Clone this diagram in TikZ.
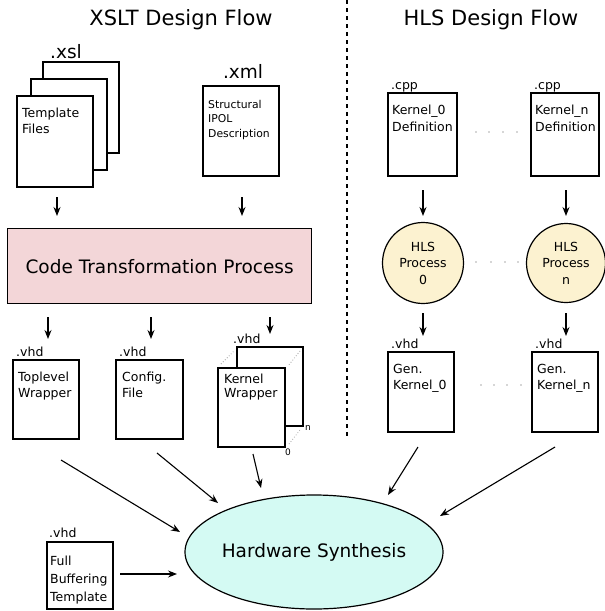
\documentclass[tikz,border=0pt]{standalone}
\usepackage{fontspec}
\setmainfont{DejaVu Sans}
\usetikzlibrary{arrows.meta,shapes.geometric}

\definecolor{ctpink}{RGB}{243,214,216}
\definecolor{hlsyellow}{RGB}{252,242,208}
\definecolor{synthcyan}{RGB}{212,250,243}

\tikzset{
  doc/.style={draw, line width=1.2pt, fill=white, anchor=north west, inner sep=0pt, outer sep=0pt},
  txt/.style={inner sep=0pt, anchor=base west, font=\fontsize{12.5}{15}\selectfont},
  smalltxt/.style={inner sep=0pt, anchor=base west, font=\fontsize{10.8}{13}\selectfont},
  ext/.style={inner sep=0pt, anchor=base west, font=\fontsize{12.5}{15}\selectfont},
  bigext/.style={inner sep=0pt, anchor=base, font=\fontsize{18.5}{22}\selectfont},
  flowtitle/.style={inner sep=0pt, anchor=base, font=\fontsize{21}{25}\selectfont},
  idx/.style={inner sep=0pt, font=\fontsize{9}{11}\selectfont},
  arr/.style={-{Stealth[length=9pt,width=7pt,inset=3pt]}, line width=1.1pt},
  hlsarr/.style={-{Stealth[length=9pt,width=7pt,inset=3pt]}, line width=1.8pt},
  ghost/.style={draw=gray!70, dotted, line width=0.8pt},
  gap/.style={fill=black!70, circle, inner sep=0pt, minimum size=1.4pt},
}

\begin{document}
\begin{tikzpicture}[x=1pt,y=-1pt]
\useasboundingbox (0,0) rectangle (605,611);

% separator between the two flows
\draw[line width=1.3pt, dash pattern=on 4pt off 4pt] (347,0) -- (347,436);

% titles
\node[flowtitle] (xsltTitle) at (181,25) {XSLT Design Flow};
\node[flowtitle] (hlsTitle) at (491,25) {HLS Design Flow};

% ---------------- XSLT flow ----------------
% stacked template files
\node[doc, minimum width=76pt, minimum height=91pt] (tplA) at (43,62) {};
\node[doc, minimum width=76pt, minimum height=91pt] (tplB) at (31,79) {};
\node[doc, minimum width=76pt, minimum height=91pt] (tplC) at (17,96) {};
\node[bigext] (xslExt) at (66,58) {.xsl};
\node[txt] (tplT1) at (22,117) {Template};
\node[txt] (tplT2) at (22,133) {Files};

% structural description
\node[doc, minimum width=76pt, minimum height=90pt] (xml) at (203,86) {};
\node[bigext] (xmlExt) at (243,78) {.xml};
\node[smalltxt] (xmlT1) at (208,108) {Structural};
\node[smalltxt] (xmlT2) at (208,122) {IPOL};
\node[smalltxt] (xmlT3) at (208,137) {Description};

% transformation step
\node[draw, line width=1.2pt, fill=ctpink, anchor=north west, minimum width=304pt, minimum height=75pt, inner sep=0pt]
  (ctp) at (7,228) {};
\node[inner sep=0pt, font=\fontsize{18.5}{22}\selectfont] (ctpT) at (ctp.center) {Code Transformation Process};

\coordinate (i1s) at (57,197); \coordinate (i1e) at (57,216);
\coordinate (i2s) at (242,197); \coordinate (i2e) at (242,216);
\draw[arr] (i1s) -- (i1e);
\draw[arr] (i2s) -- (i2e);

% generated VHDL files
\node[doc, minimum width=66pt, minimum height=79pt] (top) at (13,360) {};
\node[ext] (topExt) at (16,356) {.vhd};
\node[txt] (topT1) at (18,381) {Toplevel};
\node[txt] (topT2) at (18,397) {Wrapper};

\node[doc, minimum width=67pt, minimum height=79pt] (cfg) at (116,360) {};
\node[ext] (cfgExt) at (119,356) {.vhd};
\node[txt] (cfgT1) at (122,381) {Config.};
\node[txt] (cfgT2) at (122,397) {File};

\node[doc, minimum width=66pt, minimum height=79pt] (kwN) at (237,347) {};
\draw[ghost] (kwN.north east) ++(-3,4) -- ++(-12,15);
\node[doc, minimum width=67pt, minimum height=79pt] (kw0) at (218,368) {};
\draw[ghost] ([xshift=3pt,yshift=4pt]kw0.north west) -- ([xshift=-3pt,yshift=-4pt]kwN.north west);
\draw[ghost] ([xshift=4pt,yshift=3pt]kw0.south east) -- ([xshift=-3pt,yshift=-4pt]kwN.south east);
\node[idx] (kwNidx) at (308,428) {n};
\node[idx] (kw0idx) at (288,452) {0};
\node[ext] (kwExt) at (233,343) {.vhd};
\node[txt] (kwT1) at (224,383) {Kernel};
\node[txt] (kwT2) at (224,397) {Wrapper};

\coordinate (o1s) at (48,317); \coordinate (o1e) at (48,339);
\coordinate (o2s) at (151,317); \coordinate (o2e) at (151,339);
\coordinate (o3s) at (270,317); \coordinate (o3e) at (270,334);
\draw[arr] (o1s) -- (o1e);
\draw[arr] (o2s) -- (o2e);
\draw[arr] (o3s) -- (o3e);

% ---------------- HLS flow ----------------
\node[doc, minimum width=69pt, minimum height=83pt] (kd0) at (388,93) {};
\node[ext] (kd0Ext) at (391,89) {.cpp};
\node[txt] (kd0T1) at (392,114) {Kernel\_0};
\node[txt] (kd0T2) at (392,131) {Definition};

\node[doc, minimum width=68pt, minimum height=83pt] (kdn) at (531,93) {};
\node[ext] (kdnExt) at (534,89) {.cpp};
\node[txt] (kdnT1) at (535,114) {Kernel\_n};
\node[txt] (kdnT2) at (535,131) {Definition};

\foreach \x [count=\i] in {476,489,503,517} \node[gap] (kdgap\i) at (\x,132) {};

\node[draw, line width=1.2pt, fill=hlsyellow, circle, minimum size=81pt, inner sep=0pt] (hp0) at (423,263) {};
\node[draw, line width=1.2pt, fill=hlsyellow, circle, minimum size=79pt, inner sep=0pt] (hpn) at (566,263) {};
\node[txt, anchor=base] (hp0T1) at (423,251) {HLS};
\node[txt, anchor=base] (hp0T2) at (423,267) {Process};
\node[txt, anchor=base] (hp0T3) at (423,284) {0};
\node[txt, anchor=base] (hpnT1) at (566,251) {HLS};
\node[txt, anchor=base] (hpnT2) at (566,267) {Process};
\node[txt, anchor=base] (hpnT3) at (566,284) {n};

\foreach \x [count=\i] in {476,491,505,518} \node[gap] (hpgap\i) at (\x,262) {};

\coordinate (h1s) at (423,190); \coordinate (h1e) at (423,216);
\coordinate (h2s) at (566,190); \coordinate (h2e) at (566,216);
\draw[hlsarr] (h1s) -- (h1e);
\draw[hlsarr] (h2s) -- (h2e);
\coordinate (h3s) at (423,313); \coordinate (h3e) at (423,336);
\coordinate (h4s) at (566,313); \coordinate (h4e) at (566,336);
\draw[arr] (h3s) -- (h3e);
\draw[arr] (h4s) -- (h4e);

\node[doc, minimum width=66pt, minimum height=80pt] (gk0) at (388,352) {};
\node[ext] (gk0Ext) at (391,348) {.vhd};
\node[txt] (gk0T1) at (393,373) {Gen.};
\node[txt] (gk0T2) at (393,389) {Kernel\_0};

\node[doc, minimum width=66pt, minimum height=80pt] (gkn) at (532,352) {};
\node[ext] (gknExt) at (535,348) {.vhd};
\node[txt] (gknT1) at (537,373) {Gen.};
\node[txt] (gknT2) at (537,389) {Kernel\_n};

\foreach \x [count=\i] in {481,494,507,521} \node[gap] (gkgap\i) at (\x,385) {};

% ---------------- synthesis ----------------
\node[draw, line width=1.2pt, fill=synthcyan, ellipse, minimum width=258pt, minimum height=114pt, inner sep=0pt]
  (hw) at (314,552) {};
\node[inner sep=0pt, font=\fontsize{18.5}{22}\selectfont] (hwT) at (hw.center) {Hardware Synthesis};

\node[doc, minimum width=66pt, minimum height=67pt] (fb) at (47,542) {};
\node[ext] (fbExt) at (49,537) {.vhd};
\node[txt] (fbT1) at (50,565) {Full};
\node[txt] (fbT2) at (50,583) {Buffering};
\node[txt] (fbT3) at (50,601) {Template};

\coordinate (s1s) at (61,460); \coordinate (s1e) at (180,532);
\coordinate (s2s) at (157,453); \coordinate (s2e) at (218,503);
\coordinate (s3s) at (253,454); \coordinate (s3e) at (261,488);
\coordinate (s4s) at (418,447); \coordinate (s4e) at (388,495);
\coordinate (s5s) at (555,447); \coordinate (s5e) at (440,516);
\coordinate (s6s) at (120,574); \coordinate (s6e) at (177,574);
\draw[arr] (s1s) -- (s1e);
\draw[arr] (s2s) -- (s2e);
\draw[arr] (s3s) -- (s3e);
\draw[arr] (s4s) -- (s4e);
\draw[arr] (s5s) -- (s5e);
\draw[arr] (s6s) -- (s6e);
\end{tikzpicture}
\end{document}
